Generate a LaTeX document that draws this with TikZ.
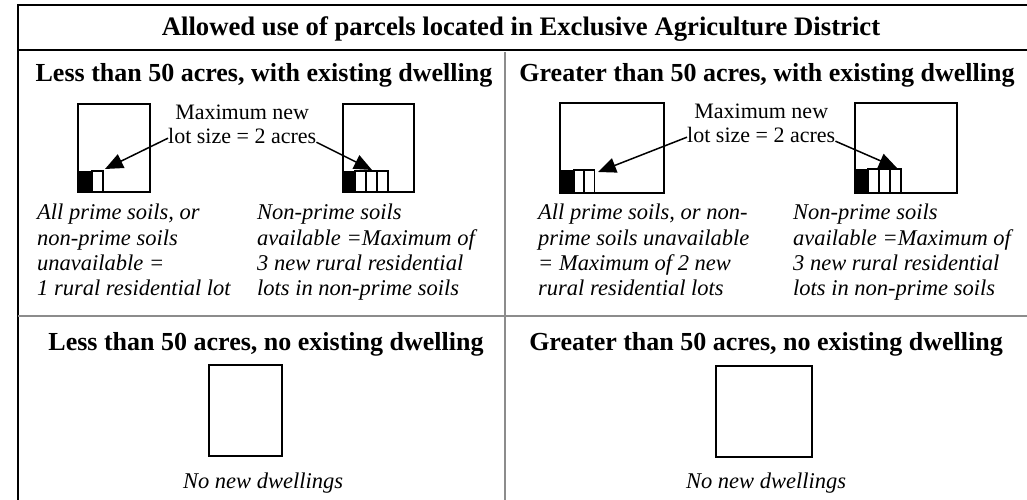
\documentclass[tikz,border=0pt]{standalone}
\usepackage{fontspec}
\setmainfont{Liberation Serif}
\usetikzlibrary{arrows.meta}
\tikzset{
  parcel/.style={line width=1.6pt},
  lot/.style={line width=1.3pt},
  divider/.style={draw=black!45,line width=2pt},
  heading/.style={font=\fontsize{26}{29}\selectfont\bfseries},
  note/.style={font=\fontsize{22}{24}\selectfont, align=center, inner sep=0pt},
  rule/.style={font=\fontsize{22.5}{25.3}\selectfont\itshape, align=left, anchor=north west, inner sep=0pt},
  pointer/.style={line width=1.5pt, -{Triangle[length=18pt,width=15pt]}}
}
\begin{document}
\begin{tikzpicture}[x=1pt,y=-1pt]
    \useasboundingbox (0,0) rectangle (1027,500);
    % frame
    \draw [line width=2pt] (18,500) -- (18,5) -- (1027,5);
    \draw [line width=2.6pt] (18,50) -- (1027,50);
    \draw [divider] (505,52) -- (505,500);
    \draw [divider] (18,316) -- (1027,316);
    \node [font=\fontsize{26.7}{30}\selectfont\bfseries] (title) at (521,29) {Allowed use of parcels located in Exclusive Agriculture District};
    % top left: less than 50 acres, with dwelling
    \node [heading] (headA) at (264,75) {Less than 50 acres, with existing dwelling};
    \draw [parcel] (78,104) rectangle (150,192);
    \fill (78,171) rectangle (92,192);
    \draw [lot] (92,171) rectangle (103,192);
    \draw [parcel] (343,104) rectangle (414,192);
    \fill (343,171) rectangle (355,192);
    \foreach \x in {355,366,377}
        \draw [lot] (\x,171) rectangle ++(11,21);
    \node [note, anchor=north west] (noteA) at (168,105) {Maximum new\\lot size = 2 acres};
    \coordinate (tipA1) at (105,169);
    \coordinate (tipA2) at (372,170);
    \draw [pointer] ([yshift=6pt]noteA.south west) -- (tipA1);
    \draw [pointer] ([yshift=2pt]noteA.south east) -- (tipA2);
    \node [rule] (ruleA1) at (37,204) {All prime soils, or\\non-prime soils\\unavailable =\\1 rural residential lot};
    \node [rule] (ruleA2) at (257,204) {Non-prime soils\\available =Maximum of\\3 new rural residential\\lots in non-prime soils};
    % top right: greater than 50 acres, with dwelling
    \node [heading] (headB) at (767,75) {Greater than 50 acres, with existing dwelling};
    \draw [parcel] (560,103) rectangle (664,193);
    \fill (560,170) rectangle (574,193);
    \foreach \x in {574,584}
        \draw [lot] (\x,170) rectangle ++(10.5,23);
    \draw [parcel] (855,103) rectangle (957,193);
    \fill (855,169) rectangle (868,193);
    \foreach \x in {868,879,890}
        \draw [lot] (\x,169) rectangle ++(11,24);
    \node [note, anchor=north west] (noteB) at (687,104) {Maximum new\\lot size = 2 acres};
    \coordinate (tipB1) at (598,172);
    \coordinate (tipB2) at (897,168);
    \draw [pointer] ([yshift=6pt]noteB.south west) -- (tipB1);
    \draw [pointer] ([yshift=2pt]noteB.south east) -- (tipB2);
    \node [rule] (ruleB1) at (538,204) {All prime soils, or non-\\prime soils unavailable\\= Maximum of 2 new\\rural residential lots};
    \node [rule] (ruleB2) at (793,204) {Non-prime soils\\available =Maximum of\\3 new rural residential\\lots in non-prime soils};
    % bottom: no dwelling
    \node [heading] (headC) at (266,344) {Less than 50 acres, no existing dwelling};
    \draw [parcel] (209,365) rectangle (282,456);
    \node [font=\fontsize{22.5}{25}\selectfont\itshape] (ruleC) at (263,483) {No new dwellings};
    \node [heading] (headD) at (766,344) {Greater than 50 acres, no existing dwelling};
    \draw [parcel] (716,366) rectangle (812,457);
    \node [font=\fontsize{22.5}{25}\selectfont\itshape] (ruleD) at (766,483) {No new dwellings};
\end{tikzpicture}
\end{document}
